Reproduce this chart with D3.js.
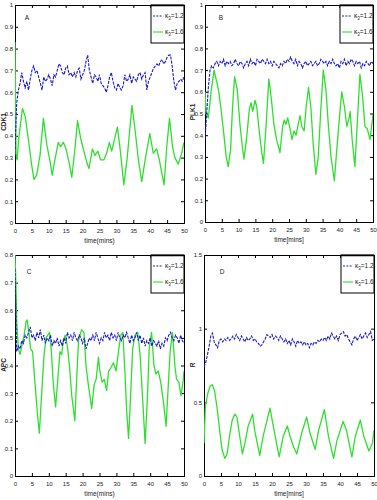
<!DOCTYPE html>
<html><head><meta charset="utf-8">
<script src="https://cdn.jsdelivr.net/npm/d3@7"></script>
<style>body{margin:0;background:#fff}svg{display:block}text{font-family:"Liberation Sans",Arial,sans-serif;fill:#222}</style>
</head><body><svg id="c" width="377" height="500"></svg>
<script>
// ---- data ----
const blueStep = 0.5; // blue series sampled every 0.5 min, t = 0..50
const blueA = [0.34,0.55,0.61,0.64,0.69,0.65,0.62,0.65,0.61,0.66,0.70,0.72,0.69,0.70,0.67,0.64,0.61,0.67,0.65,0.66,0.68,0.66,0.63,0.68,0.67,0.70,0.73,0.72,0.69,0.68,0.71,0.72,0.68,0.69,0.67,0.69,0.67,0.70,0.71,0.66,0.68,0.70,0.74,0.77,0.70,0.67,0.64,0.68,0.67,0.65,0.68,0.64,0.63,0.62,0.60,0.63,0.67,0.69,0.65,0.62,0.61,0.64,0.62,0.61,0.63,0.68,0.65,0.66,0.68,0.64,0.67,0.66,0.65,0.68,0.69,0.66,0.68,0.69,0.61,0.65,0.67,0.69,0.71,0.72,0.73,0.72,0.74,0.75,0.73,0.74,0.76,0.77,0.77,0.72,0.65,0.61,0.64,0.65,0.66,0.65,0.67];
const blueB = [0.38,0.50,0.62,0.70,0.72,0.71,0.73,0.74,0.72,0.74,0.73,0.75,0.72,0.74,0.73,0.74,0.72,0.73,0.75,0.73,0.72,0.74,0.73,0.71,0.73,0.74,0.72,0.75,0.73,0.74,0.72,0.75,0.74,0.73,0.75,0.74,0.73,0.75,0.73,0.74,0.72,0.74,0.73,0.72,0.71,0.73,0.72,0.74,0.73,0.75,0.74,0.76,0.74,0.73,0.75,0.72,0.74,0.73,0.71,0.73,0.74,0.72,0.73,0.74,0.72,0.73,0.74,0.72,0.73,0.75,0.74,0.73,0.74,0.72,0.74,0.73,0.75,0.73,0.72,0.73,0.71,0.74,0.73,0.75,0.72,0.74,0.73,0.75,0.74,0.72,0.74,0.73,0.74,0.71,0.73,0.72,0.74,0.73,0.72,0.74,0.73];
const blueC = [0.75,0.45,0.47,0.46,0.49,0.48,0.51,0.50,0.52,0.54,0.50,0.51,0.49,0.52,0.50,0.53,0.49,0.51,0.48,0.50,0.49,0.51,0.47,0.49,0.48,0.50,0.47,0.49,0.47,0.50,0.48,0.52,0.50,0.51,0.49,0.52,0.50,0.49,0.51,0.50,0.48,0.50,0.46,0.48,0.50,0.49,0.51,0.49,0.52,0.50,0.48,0.50,0.49,0.52,0.50,0.51,0.49,0.52,0.50,0.51,0.49,0.52,0.50,0.49,0.51,0.50,0.52,0.50,0.48,0.51,0.49,0.50,0.52,0.49,0.51,0.48,0.50,0.47,0.49,0.48,0.50,0.47,0.49,0.48,0.47,0.49,0.46,0.48,0.47,0.50,0.49,0.51,0.52,0.50,0.49,0.51,0.50,0.48,0.51,0.49,0.48];
const blueD = [0.74,0.77,0.82,0.88,0.95,0.97,0.91,0.89,0.87,0.92,0.93,0.91,0.93,0.92,0.94,0.92,0.93,0.95,0.93,0.96,0.94,0.92,0.95,0.93,0.91,0.94,0.92,0.93,0.95,0.92,0.93,0.91,0.90,0.88,0.89,0.91,0.93,0.96,0.95,0.94,0.96,0.93,0.95,0.94,0.92,0.95,0.93,0.91,0.93,0.90,0.92,0.89,0.93,0.91,0.88,0.92,0.90,0.91,0.89,0.91,0.89,0.90,0.87,0.90,0.89,0.91,0.90,0.92,0.91,0.93,0.92,0.94,0.92,0.95,0.93,0.97,0.95,0.93,0.95,0.92,0.96,0.97,0.98,0.95,0.96,0.93,0.91,0.89,0.93,0.95,0.92,0.94,0.96,0.93,0.95,0.97,0.94,0.96,0.98,0.92,0.93];

const greenATime = [0,0.3,0.6,1.2,2.2,3.0,3.9,4.9,5.6,6.4,7.4,8.4,9.4,10.4,11.0,11.8,12.8,13.5,14.3,15.1,16.1,16.8,17.8,18.5,19.4,20.2,21.2,21.9,22.9,23.7,24.5,25.3,26.3,27.1,27.9,28.6,30.3,31.1,32.2,33.2,34.6,35.5,36.5,37.5,38.5,39.9,40.9,41.9,42.7,44.1,44.9,45.7,46.6,47.3,48.3,49.3,50];
const greenA = [0.83,0.32,0.29,0.40,0.525,0.49,0.39,0.27,0.20,0.22,0.31,0.48,0.36,0.28,0.22,0.29,0.37,0.35,0.37,0.34,0.27,0.21,0.35,0.47,0.39,0.34,0.28,0.25,0.34,0.31,0.33,0.29,0.29,0.32,0.37,0.33,0.44,0.34,0.175,0.30,0.54,0.43,0.29,0.19,0.29,0.41,0.32,0.34,0.29,0.175,0.35,0.48,0.35,0.30,0.27,0.32,0.37];
const greenBTime = [0,0.3,1.0,1.8,2.7,4.0,4.7,5.5,6.3,6.9,7.6,8.2,8.8,9.6,10.4,11.1,11.6,12.4,13.2,13.7,14.2,14.9,15.4,16.2,16.9,17.4,18.2,19.0,19.8,20.5,21.3,22.3,23.1,23.6,24.1,24.6,25.3,25.9,26.5,27.1,27.6,28.3,28.8,29.5,30.1,30.8,31.5,32.2,33.0,33.7,34.4,35.2,36.0,36.7,37.5,38.5,39.2,40.0,40.7,41.5,42.2,42.9,43.2,43.8,44.6,45.3,46.1,46.9,47.6,48.3,49.1,49.9,50];
const greenB = [0.60,0.50,0.48,0.60,0.70,0.61,0.53,0.42,0.30,0.255,0.33,0.53,0.67,0.61,0.45,0.35,0.29,0.39,0.52,0.55,0.51,0.56,0.53,0.41,0.32,0.27,0.45,0.66,0.56,0.45,0.38,0.32,0.44,0.47,0.45,0.48,0.43,0.38,0.42,0.40,0.44,0.49,0.44,0.42,0.53,0.62,0.53,0.36,0.22,0.30,0.50,0.70,0.61,0.45,0.30,0.19,0.33,0.48,0.60,0.53,0.44,0.48,0.51,0.38,0.255,0.45,0.68,0.58,0.44,0.43,0.38,0.48,0.50];
const greenCTime = [0,0.3,0.5,1.0,1.5,2.0,2.7,3.3,3.6,4.2,4.6,5.2,5.9,6.6,7.2,7.9,8.6,9.2,10.2,10.7,11.3,12.0,12.6,13.3,13.8,14.3,14.8,15.5,16.1,16.8,17.7,18.2,18.8,19.7,20.4,21.0,21.7,22.7,23.4,24.0,24.7,25.1,25.8,26.4,27.1,27.7,28.3,29.1,29.9,30.6,31.3,31.9,32.5,33.0,33.6,34.2,34.8,35.5,36.3,37.0,37.8,38.5,39.2,39.7,40.4,41.1,41.7,42.4,43.1,43.9,44.7,45.4,45.9,46.6,47.3,47.8,48.5,49.1,49.8,50];
const greenC = [0.80,0.68,0.56,0.46,0.44,0.47,0.51,0.56,0.565,0.51,0.46,0.45,0.34,0.23,0.155,0.30,0.44,0.50,0.52,0.46,0.34,0.25,0.34,0.45,0.44,0.49,0.51,0.47,0.40,0.29,0.20,0.34,0.49,0.53,0.52,0.40,0.33,0.245,0.33,0.35,0.43,0.38,0.34,0.35,0.31,0.38,0.39,0.41,0.38,0.45,0.51,0.52,0.38,0.245,0.136,0.29,0.46,0.51,0.52,0.44,0.27,0.118,0.29,0.46,0.52,0.40,0.37,0.38,0.34,0.27,0.18,0.34,0.45,0.52,0.40,0.35,0.34,0.29,0.35,0.38];
const greenDTime = [0,0.4,1.1,1.8,2.4,3.1,3.8,4.6,5.3,6.1,6.8,7.5,8.3,9.1,9.7,10.5,11.3,12.0,13.0,14.3,14.9,16.4,17.4,19.4,20.2,22.1,23.3,24.5,25.3,26.3,27.3,28.7,30.2,31.2,32.7,33.7,35.4,36.6,38.1,39.1,40.9,41.9,43.5,44.5,46.0,47.0,48.5,49.5,50];
const greenD = [0.22,0.47,0.56,0.61,0.62,0.58,0.47,0.31,0.18,0.12,0.15,0.27,0.38,0.42,0.40,0.27,0.15,0.22,0.34,0.42,0.31,0.14,0.27,0.46,0.36,0.13,0.27,0.34,0.27,0.20,0.15,0.29,0.40,0.29,0.18,0.31,0.45,0.27,0.12,0.24,0.37,0.31,0.13,0.27,0.38,0.27,0.17,0.22,0.31];

const xTicks = [0,5,10,15,20,25,30,35,40,45,50];
const yTicksAB = [0,0.1,0.2,0.3,0.4,0.5,0.6,0.7,0.8,0.9,1];
const yTicksC = [0,0.1,0.2,0.3,0.4,0.5,0.6,0.7,0.8];
const yTicksD = [0,0.5,1,1.5];
const legendLabels = ["=1.2","=1.6"];

// ---- drawing ----
const svg = d3.select("#c");
const BLUE = "#1a1acc", GREEN = "#2ee02e";

const panels = [
  {id:"A", box:[15,184,5,223], yMax:1, yTicks:yTicksAB, yLabel:"CDK1", xLabel:"time(mins)", blue:blueA, gT:greenATime, g:greenA, letter:[27,20], yLabelX:6, yLabelY:122},
  {id:"B", box:[205,373,5,222], yMax:1, yTicks:yTicksAB, yLabel:"PLK1", xLabel:"time[mins]", blue:blueB, gT:greenBTime, g:greenB, letter:[221,20], yLabelX:195, yLabelY:112},
  {id:"C", box:[15,184,255,476], yMax:0.8, yTicks:yTicksC, yLabel:"APC", xLabel:"time(mins)", blue:blueC, gT:greenCTime, g:greenC, letter:[29,274], yLabelX:6, yLabelY:365},
  {id:"D", box:[204,374,255,476], yMax:1.5, yTicks:yTicksD, yLabel:"R", xLabel:"time[mins]", blue:blueD, gT:greenDTime, g:greenD, letter:[222,274], yLabelX:195, yLabelY:365}
];

panels.forEach(p => {
  const [x0,x1,y0,y1] = p.box;
  const x = d3.scaleLinear().domain([0,50]).range([x0,x1]);
  const y = d3.scaleLinear().domain([0,p.yMax]).range([y1,y0]);
  const g = svg.append("g");
  const cid = "clip"+p.id;
  svg.append("clipPath").attr("id",cid).append("rect").attr("x",x0).attr("y",y0).attr("width",x1-x0).attr("height",y1-y0);

  const fmt = d => d3.format("~g")(d);
  const bottom = d3.axisBottom(x).tickValues(xTicks).tickSize(-3).tickPadding(6).tickFormat(fmt);
  const top = d3.axisTop(x).tickValues(xTicks).tickSize(-3).tickFormat("");
  const left = d3.axisLeft(y).tickValues(p.yTicks).tickSize(-3).tickPadding(2).tickFormat(fmt);
  const right = d3.axisRight(y).tickValues(p.yTicks).tickSize(-3).tickFormat("");
  [[bottom,`translate(0,${y1})`],[top,`translate(0,${y0})`],[left,`translate(${x0},0)`],[right,`translate(${x1},0)`]].forEach(([ax,tr])=>{
    const a = g.append("g").attr("transform",tr).call(ax);
    a.select(".domain").attr("stroke","#000").attr("stroke-width",1);
    a.selectAll(".tick line").attr("stroke","#000");
    a.selectAll(".tick text").attr("font-size",6).attr("fill","#333").style("font-family","Liberation Sans, Arial, sans-serif");
  });

  const line = d3.line().x(d=>x(d[0])).y(d=>y(d[1]));
  const gData = p.gT.map((t,i)=>[t,p.g[i]]).filter(d=>d[1]!==undefined);
  const bData = p.blue.map((v,i)=>[i*blueStep,v]);
  const plot = g.append("g").attr("clip-path",`url(#${cid})`);
  plot.append("path").datum(gData).attr("d",line).attr("fill","none").attr("stroke",GREEN).attr("stroke-width",1.3).attr("stroke-linejoin","round");
  plot.append("path").datum(bData).attr("d",line).attr("fill","none").attr("stroke",BLUE).attr("stroke-width",1.1).attr("stroke-dasharray","3,1.2");

  // legend
  const lx = x1-33, ly = y0, lw = 33, lh = 38;
  const lg = g.append("g");
  lg.append("rect").attr("x",lx).attr("y",ly).attr("width",lw).attr("height",lh).attr("fill","#fff").attr("stroke","#000").attr("stroke-width",1);
  lg.append("line").attr("x1",lx).attr("x2",x1).attr("y1",ly+0.5).attr("y2",ly+0.5).attr("stroke","#000").attr("stroke-width",1.5);
  const rows = [{c:BLUE,dash:"2,1.3",y:ly+11},{c:GREEN,dash:null,y:ly+27}];
  rows.forEach((r,i)=>{
    lg.append("line").attr("x1",lx+2).attr("x2",lx+12).attr("y1",r.y).attr("y2",r.y).attr("stroke",r.c).attr("stroke-width",1.1).attr("stroke-dasharray",r.dash);
    const t = lg.append("text").attr("x",lx+14).attr("y",r.y+2).attr("font-size",6.5);
    t.append("tspan").text("κ");
    t.append("tspan").attr("font-size",4.5).attr("dy",1.5).text("3");
    t.append("tspan").attr("dy",-1.5).text(legendLabels[i]);
  });

  // labels
  g.append("text").attr("x",p.letter[0]).attr("y",p.letter[1]).attr("font-size",6.5).attr("text-anchor","middle").text(p.id);
  g.append("text").attr("x",(x0+x1)/2).attr("y",y1+20).attr("font-size",6.5).attr("text-anchor","middle").text(p.xLabel);
  g.append("text").attr("transform",`translate(${p.yLabelX},${p.yLabelY}) rotate(-90)`).attr("font-size",6.5).attr("font-weight","bold").attr("text-anchor","middle").text(p.yLabel);
});
</script></body></html>
